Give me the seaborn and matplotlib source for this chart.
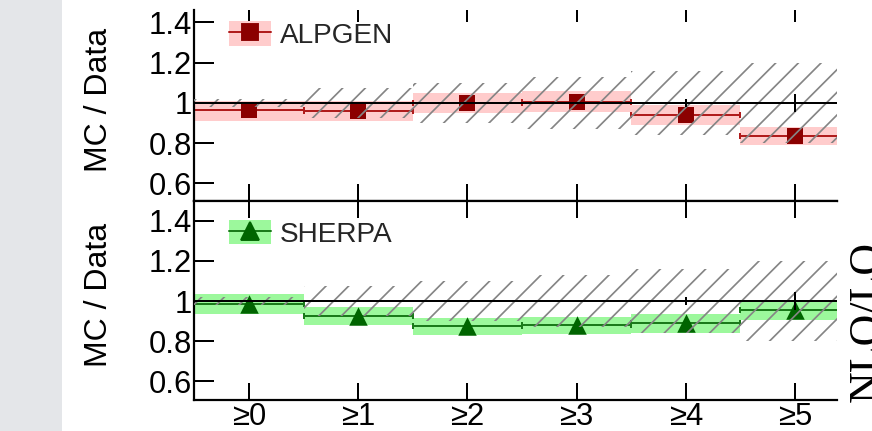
import numpy as np
import pandas as pd
import matplotlib
matplotlib.use("Agg")
import matplotlib.pyplot as plt
import seaborn as sns
from matplotlib.patches import Patch, Rectangle
from matplotlib.lines import Line2D

# Jet-multiplicity bins
categories = ["≥0", "≥1", "≥2", "≥3", "≥4", "≥5"]

# ALPGEN / data ratio and its uncertainty band
alpgen_ratio = [0.964, 0.962, 0.998, 1.006, 0.940, 0.836]
alpgen_band_lo = [0.912, 0.912, 0.949, 0.957, 0.890, 0.793]
alpgen_band_hi = [1.011, 1.011, 1.051, 1.061, 0.990, 0.879]

# SHERPA / data ratio and its uncertainty band
sherpa_ratio = [0.986, 0.925, 0.875, 0.879, 0.889, 0.955]
sherpa_band_lo = [0.937, 0.879, 0.829, 0.834, 0.843, 0.905]
sherpa_band_hi = [1.033, 0.972, 0.917, 0.920, 0.934, 1.005]

# Relative data uncertainty (hatched) and statistical error on data
data_syst = [0.02, 0.075, 0.10, 0.13, 0.16, 0.20]
data_stat = [0.001, 0.002, 0.003, 0.005, 0.018, 0.044]

yticks = [0.6, 0.8, 1.0, 1.2, 1.4]
ytick_labels = ["0.6", "0.8", "1", "1.2", "1.4"]

DPI = 136
PX = 72.0 / DPI  # points per pixel
LEG_FS = 28      # legend font size in pixels

sns.set_theme(style="ticks")
plt.rcParams["font.family"] = ["Liberation Sans", "DejaVu Sans"]
plt.rcParams["hatch.linewidth"] = 1.7 * PX
plt.rcParams["axes.linewidth"] = 2.2 * PX

fig = plt.figure(figsize=(872 / DPI, 431 / DPI), dpi=DPI, facecolor="white")
fig.patches.append(Rectangle((0, 0), 62 / 872, 1, transform=fig.transFigure,
                             facecolor="#e4e6e9", edgecolor="none", zorder=-5))

ax_top = fig.add_axes([194 / 872, (431 - 201) / 431, 643 / 872, 191 / 431])
ax_bot = fig.add_axes([194 / 872, (431 - 400) / 431, 643 / 872, 199 / 431])

x = np.arange(len(categories))


def draw_panel(ax, ratio, lo, hi, band_color, line_color, marker_color,
               marker, msize_px, label, ylim, legend_top):
    lo = np.array(lo)
    hi = np.array(hi)
    unc = np.array(data_syst)
    ax.bar(x, hi - lo, bottom=lo, width=1.0, color=band_color,
           linewidth=0, zorder=1)
    ax.errorbar(x, ratio, xerr=0.5, fmt="none", ecolor=line_color,
                elinewidth=2 * PX, capsize=3 * PX, capthick=2 * PX, zorder=2)
    df = pd.DataFrame({"bin": x, "ratio": ratio})
    sns.scatterplot(data=df, x="bin", y="ratio", marker=marker,
                    s=(msize_px * PX) ** 2, color=marker_color,
                    edgecolor=marker_color, linewidth=0, zorder=3,
                    legend=False, ax=ax)
    ax.bar(x, 2 * unc, bottom=1 - unc, width=1.0, facecolor="none",
           edgecolor="#858585", linewidth=0, hatch="//", zorder=4)
    ax.axhline(1.0, color="black", lw=2 * PX, zorder=5)
    ax.errorbar(x, np.ones(len(x)), yerr=data_stat, fmt="none",
                ecolor="black", elinewidth=2 * PX, zorder=6)

    ax.set_xlim(-0.504, 5.385)
    ax.set_ylim(*ylim)
    ax.set_xticks(x)
    ax.set_yticks(yticks)
    ax.set_yticklabels(ytick_labels)
    ax.tick_params(axis="x", direction="in", top=True, bottom=True,
                   length=17 * PX, width=2 * PX, pad=1, labelsize=31 * PX,
                   colors="black")
    ax.tick_params(axis="y", direction="in", left=True, right=False,
                   length=20 * PX, width=2 * PX, pad=2 * PX,
                   labelsize=31 * PX, colors="black")
    ax.spines["right"].set_visible(False)
    for s in ax.spines.values():
        s.set_color("black")
    ax.set_xlabel("")
    ax.set_ylabel("MC / Data", fontsize=32 * PX, color="black")
    ax.yaxis.set_label_coords(-0.125, 0.53)

    handle = (Patch(facecolor=band_color, edgecolor="none"),
              Line2D([], [], color=line_color, lw=2 * PX, marker=marker,
                     markersize=msize_px * PX, markerfacecolor=marker_color,
                     markeredgecolor=marker_color))
    ax.legend([handle], [label], loc="upper left",
              bbox_to_anchor=(0.0544, legend_top), frameon=False,
              handlelength=42 / LEG_FS, handleheight=27 / LEG_FS,
              handletextpad=9 / LEG_FS, fontsize=LEG_FS * PX,
              borderaxespad=0, borderpad=0)


draw_panel(ax_top, alpgen_ratio, alpgen_band_lo, alpgen_band_hi,
           "#ffcccc", "#b01c1c", "#8b0000", "s", 16.7, "ALPGEN",
           (0.513, 1.462), 0.94)
draw_panel(ax_bot, sherpa_ratio, sherpa_band_lo, sherpa_band_hi,
           "#9cf89c", "#1a7a1a", "#006400", "^", 18.5, "SHERPA",
           (0.508, 1.497), 0.905)

ax_top.spines["top"].set_visible(False)
ax_top.set_xticklabels([])
for t in ax_top.xaxis.get_major_ticks():
    t.tick2line.set_markersize(12 * PX)
ax_bot.set_xticklabels(categories)

fig.text(848 / 872, (431 - 321) / 431, "NLO/LO", rotation=90,
         ha="left", va="center", fontsize=44 * PX,
         family=["Liberation Serif", "DejaVu Serif"], color="black")

fig.savefig("out.png", dpi=DPI, facecolor="white")
